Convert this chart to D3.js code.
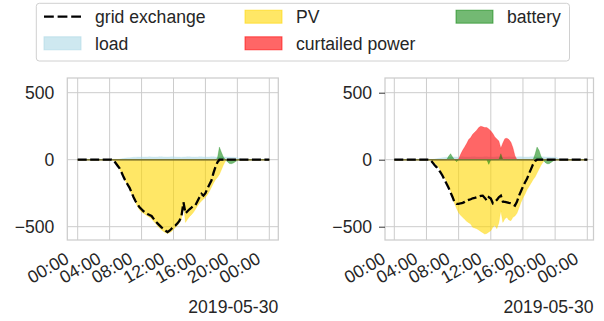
<!DOCTYPE html>
<html>
<head>
<meta charset="utf-8">
<script src="https://d3js.org/d3.v7.min.js"></script>
<style>
  body { margin: 0; background: #fff; }
  text { font-family: "Liberation Sans", Arial, sans-serif; }
</style>
</head>
<body>
<svg id="chart" width="604" height="321"></svg>
<script>
  // 15 minute steps over 2019-05-30, 97 points (00:00 .. 24:00)
  var start = new Date(2019, 4, 30, 0, 0);
  var times = d3.range(97).map(function(i) { return new Date(start.getTime() + i * 15 * 60000); });
  var tickHours = [0, 4, 8, 12, 16, 20, 24];
  var tickLabels = ["00:00", "04:00", "08:00", "12:00", "16:00", "20:00", "00:00"];
  var yTicks = [500, 0, -500];
  var dateLabel = "2019-05-30";
  var legendNames = ["grid exchange", "load", "PV", "curtailed power", "battery"];

  // left panel (kW), one row per hour
  var leftGrid = [
    0,0,0,0, 0,0,0,0, 0,0,0,0, 0,0,0,0,
    0,0,-5,-25, -45,-65,-95,-130, -160,-185,-210,-245, -280,-310,-335,-355,
    -370,-385,-395,-405, -412,-420,-440,-460, -475,-490,-505,-515, -530,-540,-530,-515,
    -500,-490,-475,-455, -420,-318,-400,-385, -370,-358,-345,-340, -310,-280,-255,-268,
    -250,-215,-185,-155, -100,-55,-20,0, 0,0,0,0, 0,0,0,0,
    0,0,0,0, 0,0,0,0, 0,0,0,0, 0,0,0,0, 0];
  var leftLoad = [
    3,3,3,3, 3,3,3,3, 3,3,3,3, 3,3,3,3,
    3,3,3,3, 3,5,8,10, 12,14,15,16, 18,19,20,20,
    21,20,20,21, 22,21,20,20, 21,22,22,21, 20,20,21,22,
    22,21,20,20, 19,20,21,22, 22,21,20,20, 21,22,22,21,
    20,20,21,22, 22,21,20,20, 22,22,20,20, 20,18,18,16,
    14,10,6,3, 3,3,3,3, 3,3,3,3, 3,3,3,3, 3];
  var leftPV = [
    0,0,0,0, 0,0,0,0, 0,0,0,0, 0,0,0,0,
    0,0,-5,-15, -40,-70,-100,-130, -160,-190,-220,-255, -290,-320,-350,-375,
    -390,-400,-410,-420, -430,-440,-460,-475, -495,-510,-525,-535, -545,-550,-545,-535,
    -520,-505,-490,-470, -440,-330,-468,-445, -425,-410,-393,-370, -345,-325,-308,-295,
    -280,-262,-235,-205, -175,-150,-132,-110, -75,-40,-10,0, 0,0,0,0,
    0,0,0,0, 0,0,0,0, 0,0,0,0, 0,0,0,0, 0];
  var leftCurtailed = d3.range(97).map(function() { return 0; });
  var leftBattery = [
    0,0,0,0, 0,0,0,0, 0,0,0,0, 0,0,0,0,
    0,0,0,0, 0,0,0,0, 0,0,0,0, 0,0,0,0,
    0,0,0,0, 0,0,0,0, 0,0,0,0, 0,0,0,0,
    0,0,0,0, 0,0,0,0, 0,0,0,0, 0,0,0,0,
    0,0,0,0, 0,0,10,95, 55,20,0,-15, -28,-30,-25,-15,
    -5,0,0,0, 0,0,0,0, 0,0,0,0, 0,0,0,0, 0];

  // right panel
  var rightGrid = [
    0,0,0,0, 0,0,0,0, 0,0,0,0, 0,0,0,0,
    0,0,-3,-20, -40,-55,-75,-95, -120,-150,-180,-210, -245,-280,-320,-330,
    -330,-325,-322,-315, -305,-300,-295,-288, -285,-280,-275,-270, -268,-285,-305,-280,
    -290,-325,-315,-300, -280,-268,-313,-315, -318,-322,-325,-335, -343,-315,-270,-235,
    -200,-170,-143,-105, -70,-35,-10,0, 0,0,0,0, 0,0,0,0,
    0,0,0,0, 0,0,0,0, 0,0,0,0, 0,0,0,0, 0];
  var rightLoad = [
    3,3,3,3, 3,3,3,3, 3,3,3,3, 3,3,3,3,
    3,3,3,3, 5,8,10,12, 15,17,18,19, 20,20,21,20,
    20,21,22,21, 20,20,21,22, 22,21,20,20, 21,22,22,21,
    20,20,21,22, 22,21,20,20, 21,22,21,20, 20,21,22,22,
    21,20,20,21, 22,22,21,20, 20,21,22,21, 20,20,19,18,
    18,14,8,4, 3,3,3,3, 3,3,3,3, 3,3,3,3, 3];
  var rightPV = [
    0,0,0,0, 0,0,0,0, 0,0,0,0, 0,0,0,0,
    0,0,-3,-10, -25,-40,-55,-80, -105,-135,-160,-190, -230,-280,-327,-365,
    -395,-415,-430,-445, -460,-470,-480,-505, -510,-515,-525,-535, -545,-555,-550,-540,
    -530,-505,-490,-515, -470,-380,-468,-440, -430,-450,-455,-430, -420,-400,-360,-320,
    -285,-258,-225,-200, -175,-150,-130,-100, -70,-40,-18,0, 0,0,0,0,
    0,0,0,0, 0,0,0,0, 0,0,0,0, 0,0,0,0, 0];
  var rightCurtailed = [
    0,0,0,0, 0,0,0,0, 0,0,0,0, 0,0,0,0,
    0,0,0,0, 0,0,0,0, 0,0,0,0, 0,0,0,0,
    5,40,70,95, 120,150,165,190, 205,220,240,250, 245,240,240,230,
    215,195,170,155, 140,85,125,157, 160,150,130,90, 30,0,0,0,
    0,0,0,0, 0,0,0,0, 0,0,0,0, 0,0,0,0,
    0,0,0,0, 0,0,0,0, 0,0,0,0, 0,0,0,0, 0];
  var rightBattery = [
    0,0,0,0, 0,0,0,0, 0,0,0,0, 0,0,0,0,
    0,0,0,0, 0,0,0,0, 0,0,0,25, 45,20,0,-15,
    0,0,0,0, 0,0,0,0, 0,0,0,0, 0,0,0,-35,
    0,0,0,0, 0,45,0,0, 0,0,0,0, 0,0,0,0,
    0,0,0,0, 0,0,40,95, 70,25,0,-20, -30,-30,-20,-10,
    0,0,0,0, 0,0,0,0, 0,0,0,0, 0,0,0,0, 0];

  var colors = { load: "lightblue", pv: "gold", curtailed: "red", battery: "green" };
  var textColor = "#262626";
  var svg = d3.select("#chart");

  function hourDate(h) { return new Date(start.getTime() + h * 3600000); }

  function drawPanel(p) {
    var g = svg.append("g");
    var top = 78, bottom = 240;
    var x = d3.scaleTime().domain([hourDate(0), hourDate(24)]).range([p.h0, p.h24]);
    var y = d3.scaleLinear().domain([-500, 500]).range([226.7, 92.7]);

    // grid
    g.selectAll(".vgrid").data(tickHours).enter().append("line")
      .attr("x1", function(d) { return x(hourDate(d)); })
      .attr("x2", function(d) { return x(hourDate(d)); })
      .attr("y1", top).attr("y2", bottom)
      .attr("stroke", "#cccccc").attr("stroke-width", 1);
    g.selectAll(".hgrid").data(yTicks).enter().append("line")
      .attr("x1", p.left).attr("x2", p.right)
      .attr("y1", function(d) { return y(d); })
      .attr("y2", function(d) { return y(d); })
      .attr("stroke", "#cccccc").attr("stroke-width", 1);

    var area = d3.area()
      .x(function(d, i) { return x(times[i]); })
      .y0(y(0))
      .y1(function(d) { return y(d); });

    function fill(vals, col, op) {
      g.append("path").datum(vals)
        .attr("d", area)
        .attr("fill", col).attr("fill-opacity", op)
        .attr("stroke", col).attr("stroke-opacity", op * 0.5).attr("stroke-width", 0.8);
    }
    fill(p.load, colors.load, 0.6);
    fill(p.pv, colors.pv, 0.6);
    fill(p.curtailed, colors.curtailed, 0.6);
    fill(p.battery, colors.battery, 0.55);

    // overlapping zero edges of the filled areas
    g.append("line")
      .attr("x1", x(times[0])).attr("x2", x(times[96]))
      .attr("y1", y(0)).attr("y2", y(0))
      .attr("stroke", "#7a7838").attr("stroke-width", 1.6);

    var line = d3.line()
      .x(function(d, i) { return x(times[i]); })
      .y(function(d) { return y(d); });
    g.append("path").datum(p.grid)
      .attr("d", line)
      .attr("fill", "none")
      .attr("stroke", "#000").attr("stroke-width", 2.3)
      .attr("stroke-dasharray", "9,3.5");

    // spines
    g.append("rect")
      .attr("x", p.left).attr("y", top)
      .attr("width", p.right - p.left).attr("height", bottom - top)
      .attr("fill", "none").attr("stroke", "#cccccc").attr("stroke-width", 1.25);

    // y axis
    var yAxis = d3.axisLeft(y)
      .tickValues(yTicks)
      .tickSize(p.yTickSize)
      .tickPadding(13 - p.yTickSize)
      .tickFormat(function(d) { return d < 0 ? "\u2212" + Math.abs(d) : String(d); });
    g.append("g")
      .attr("transform", "translate(" + p.left + ",0)")
      .attr("color", textColor)
      .call(yAxis)
      .call(function(a) {
        a.select(".domain").remove();
        a.selectAll("text").attr("font-size", 17.6).attr("font-family", "Liberation Sans, Arial, sans-serif");
        a.selectAll("line").attr("stroke", "#333");
      });

    // x axis
    var xAxis = d3.axisBottom(x)
      .tickValues(tickHours.map(hourDate))
      .tickSize(0)
      .tickFormat(function(d, i) { return tickLabels[i]; });
    g.append("g")
      .attr("transform", "translate(0," + bottom + ")")
      .attr("color", textColor)
      .call(xAxis)
      .call(function(a) {
        a.select(".domain").remove();
        a.selectAll("text")
          .attr("font-size", 17.6)
          .attr("font-family", "Liberation Sans, Arial, sans-serif")
          .attr("text-anchor", "end")
          .attr("y", 0).attr("dy", null)
          .attr("transform", "translate(-8,22) rotate(-30)");
      });

    g.append("text")
      .attr("x", p.right).attr("y", 313)
      .attr("text-anchor", "end")
      .attr("font-size", 17.6)
      .attr("fill", textColor)
      .text(dateLabel);
  }

  drawPanel({ left: 67.3, right: 278.3, h0: 77.7, h24: 269.3, yTickSize: 0,
    grid: leftGrid, load: leftLoad, pv: leftPV, curtailed: leftCurtailed, battery: leftBattery });
  drawPanel({ left: 385, right: 593.5, h0: 394.3, h24: 587.3, yTickSize: 6,
    grid: rightGrid, load: rightLoad, pv: rightPV, curtailed: rightCurtailed, battery: rightBattery });

  // legend
  var lg = svg.append("g");
  lg.append("rect")
    .attr("x", 36.3).attr("y", 3.3).attr("width", 533.2).attr("height", 57.7)
    .attr("rx", 3).attr("fill", "#fff").attr("stroke", "#d0d0d0").attr("stroke-width", 1);
  var legendItems = [
    { name: legendNames[0], kind: "line", col: 0, row: 0 },
    { name: legendNames[1], kind: "patch", color: colors.load, op: 0.6, col: 0, row: 1 },
    { name: legendNames[2], kind: "patch", color: colors.pv, op: 0.6, col: 1, row: 0 },
    { name: legendNames[3], kind: "patch", color: colors.curtailed, op: 0.6, col: 1, row: 1 },
    { name: legendNames[4], kind: "patch", color: colors.battery, op: 0.55, col: 2, row: 0 }
  ];
  var colX = [44, 245, 456];
  var textOff = 51;
  var rowY = [16.7, 43.3];
  legendItems.forEach(function(it) {
    var hx = colX[it.col], cy = rowY[it.row];
    if (it.kind === "line") {
      lg.append("line")
        .attr("x1", hx).attr("x2", hx + 37).attr("y1", cy).attr("y2", cy)
        .attr("stroke", "#000").attr("stroke-width", 2.3).attr("stroke-dasharray", "9.8,3.8");
    } else {
      lg.append("rect")
        .attr("x", hx).attr("y", cy - 6.5).attr("width", 37).attr("height", 13)
        .attr("fill", it.color).attr("fill-opacity", it.op)
        .attr("stroke", it.color).attr("stroke-opacity", it.op).attr("stroke-width", 1);
    }
    lg.append("text")
      .attr("x", hx + textOff).attr("y", cy + 6.2)
      .attr("font-size", 17.6).attr("fill", textColor)
      .text(it.name);
  });
</script>
</body>
</html>
